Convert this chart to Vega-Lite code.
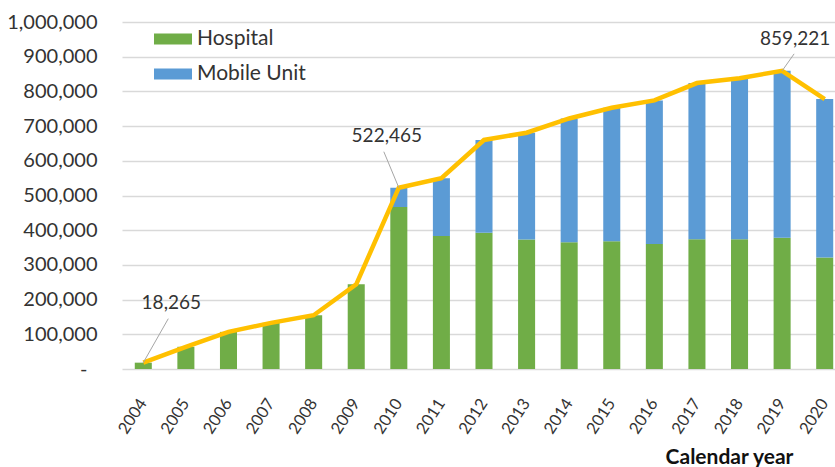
{
  "$schema": "https://vega.github.io/schema/vega-lite/v6.json",
  "width": 724,
  "height": 347,
  "autosize": {"type": "none"},
  "padding": {"left": 122, "top": 22, "right": -11, "bottom": 98},
  "background": "white",
  "config": {
    "font": "Lato",
    "view": {"stroke": null},
    "axis": {"labelColor": "#333333", "titleColor": "#111111"}
  },
  "datasets": {
    "bars": [
      {"year": "2004", "type": "Hospital", "value": 18265},
      {"year": "2005", "type": "Hospital", "value": 64000},
      {"year": "2006", "type": "Hospital", "value": 107000},
      {"year": "2007", "type": "Hospital", "value": 133000},
      {"year": "2008", "type": "Hospital", "value": 155000},
      {"year": "2009", "type": "Hospital", "value": 244000},
      {"year": "2010", "type": "Hospital", "value": 467000},
      {"year": "2010", "type": "Mobile Unit", "value": 55465},
      {"year": "2011", "type": "Hospital", "value": 383000},
      {"year": "2011", "type": "Mobile Unit", "value": 167000},
      {"year": "2012", "type": "Hospital", "value": 393000},
      {"year": "2012", "type": "Mobile Unit", "value": 267000},
      {"year": "2013", "type": "Hospital", "value": 373000},
      {"year": "2013", "type": "Mobile Unit", "value": 308000},
      {"year": "2014", "type": "Hospital", "value": 365000},
      {"year": "2014", "type": "Mobile Unit", "value": 357000},
      {"year": "2015", "type": "Hospital", "value": 368000},
      {"year": "2015", "type": "Mobile Unit", "value": 385000},
      {"year": "2016", "type": "Hospital", "value": 360000},
      {"year": "2016", "type": "Mobile Unit", "value": 414000},
      {"year": "2017", "type": "Hospital", "value": 374000},
      {"year": "2017", "type": "Mobile Unit", "value": 450000},
      {"year": "2018", "type": "Hospital", "value": 374000},
      {"year": "2018", "type": "Mobile Unit", "value": 464000},
      {"year": "2019", "type": "Hospital", "value": 378000},
      {"year": "2019", "type": "Mobile Unit", "value": 481221},
      {"year": "2020", "type": "Hospital", "value": 321000},
      {"year": "2020", "type": "Mobile Unit", "value": 457000}
    ],
    "totals": [
      {"year": "2004", "value": 18265},
      {"year": "2005", "value": 64000},
      {"year": "2006", "value": 107000},
      {"year": "2007", "value": 133000},
      {"year": "2008", "value": 155000},
      {"year": "2009", "value": 244000},
      {"year": "2010", "value": 522465},
      {"year": "2011", "value": 550000},
      {"year": "2012", "value": 660000},
      {"year": "2013", "value": 681000},
      {"year": "2014", "value": 722000},
      {"year": "2015", "value": 753000},
      {"year": "2016", "value": 774000},
      {"year": "2017", "value": 824000},
      {"year": "2018", "value": 838000},
      {"year": "2019", "value": 859221},
      {"year": "2020", "value": 778000}
    ]
  },
  "encoding": {
    "x": {
      "field": "year",
      "type": "ordinal",
      "scale": {"paddingInner": 0.6, "paddingOuter": 0.3},
      "axis": {
        "labelAngle": -57,
        "labelAlign": "right",
        "labelBaseline": "middle",
        "labelPadding": 31,
        "labelFontSize": 16.5,
        "ticks": false,
        "domain": false,
        "title": "Calendar year",
        "titleFontSize": 21,
        "titleFontWeight": "bold",
        "titleX": 607,
        "titleY": 88,
        "titleAlign": "center",
        "titleBaseline": "middle"
      }
    },
    "y": {
      "field": "value",
      "type": "quantitative",
      "scale": {"domain": [0, 1000000]},
      "axis": {
        "title": null,
        "values": [0, 100000, 200000, 300000, 400000, 500000, 600000, 700000, 800000, 900000, 1000000],
        "labelExpr": "datum.value === 0 ? '-' : format(datum.value, ',')",
        "labelOverlap": false,
        "labelFontSize": 20,
        "labelPadding": {"condition": {"test": "datum.value === 0", "value": 35}, "value": 25},
        "ticks": false,
        "tickSize": 0,
        "domain": false,
        "grid": true,
        "gridColor": "#D9D9D9",
        "gridWidth": 1.5
      }
    }
  },
  "layer": [
    {
      "data": {"name": "bars"},
      "mark": {"type": "bar"},
      "encoding": {
        "color": {
          "field": "type",
          "type": "nominal",
          "scale": {"domain": ["Hospital", "Mobile Unit"], "range": ["#70AD47", "#5B9BD5"]},
          "legend": {
            "orient": "none",
            "legendX": 32,
            "legendY": -2,
            "title": null,
            "padding": 0,
            "symbolType": "M-1,-0.29H1V0.29H-1Z",
            "symbolSize": 1444,
            "symbolStrokeWidth": 0,
            "symbolOpacity": 1,
            "labelFontSize": 21,
            "labelColor": "#333333",
            "labelOffset": 5,
            "rowPadding": 6
          }
        },
        "order": {"field": "type", "sort": "ascending"}
      }
    },
    {
      "data": {"name": "totals"},
      "mark": {"type": "line", "color": "#FFC000", "strokeWidth": 4.5}
    },
    {
      "data": {"name": "totals"},
      "transform": [{"filter": "datum.year == '2004'"}],
      "mark": {"type": "rule", "color": "#A6A6A6", "strokeWidth": 1, "x2Offset": 25, "y2Offset": -44},
      "encoding": {"x2": {"field": "year"}, "y2": {"field": "value"}}
    },
    {
      "data": {"name": "totals"},
      "transform": [{"filter": "datum.year == '2010'"}],
      "mark": {"type": "rule", "color": "#A6A6A6", "strokeWidth": 1, "x2Offset": -15, "y2Offset": -36},
      "encoding": {"x2": {"field": "year"}, "y2": {"field": "value"}}
    },
    {
      "data": {"name": "totals"},
      "transform": [{"filter": "datum.year == '2019'"}],
      "mark": {"type": "rule", "color": "#A6A6A6", "strokeWidth": 1, "x2Offset": 12, "y2Offset": -17},
      "encoding": {"x2": {"field": "year"}, "y2": {"field": "value"}}
    },
    {
      "data": {"name": "totals"},
      "transform": [{"filter": "datum.year == '2004'"}],
      "mark": {"type": "text", "fontSize": 19, "color": "#333333", "dx": 28, "dy": -60},
      "encoding": {"text": {"field": "value", "type": "quantitative", "format": ","}}
    },
    {
      "data": {"name": "totals"},
      "transform": [{"filter": "datum.year == '2010'"}],
      "mark": {"type": "text", "fontSize": 19, "color": "#333333", "dx": -12, "dy": -52},
      "encoding": {"text": {"field": "value", "type": "quantitative", "format": ","}}
    },
    {
      "data": {"name": "totals"},
      "transform": [{"filter": "datum.year == '2019'"}],
      "mark": {"type": "text", "fontSize": 19, "color": "#333333", "dx": 13, "dy": -32},
      "encoding": {"text": {"field": "value", "type": "quantitative", "format": ","}}
    }
  ]
}
